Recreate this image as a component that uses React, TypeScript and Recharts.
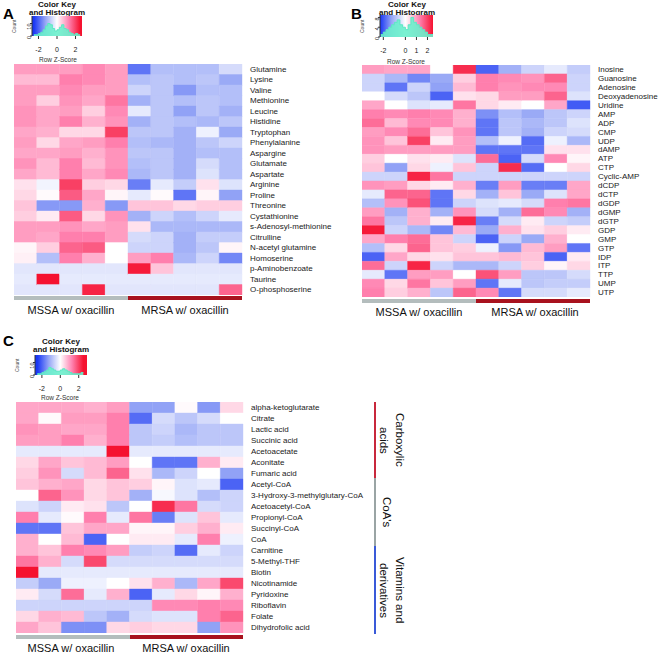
import React from "react";
import { BarChart, Bar, Cell, XAxis, YAxis, ComposedChart, Area, ReferenceArea } from "recharts";

// ---- panel A: amino acids ----
const aNames = [
  "Glutamine", "Lysine", "Valine", "Methionine", "Leucine", "Histidine", "Tryptophan",
  "Phenylalanine", "Aspargine", "Glutamate", "Aspartate", "Arginine", "Proline", "Threonine",
  "Cystathionine", "s-Adenosyl-methionine", "Citrulline", "N-acetyl glutamine", "Homoserine",
  "p-Aminobenzoate", "Taurine", "O-phosphoserine",
];
const aValues = [
  [1.0, 1.0, 1.0, 1.2, 1.0, -1.8, -0.9, -0.9, -0.9, -0.5],
  [0.7, 0.7, 1.3, 1.2, 1.0, -0.9, -0.8, -0.9, -0.8, -1.2],
  [1.0, 1.0, 1.2, 1.0, 1.0, -0.6, -0.8, -1.4, -0.9, -0.9],
  [1.0, 0.5, 1.1, 0.9, 1.4, -1.1, -0.8, -0.9, -0.8, -0.9],
  [1.1, 0.9, 1.0, 0.5, 1.2, -0.3, -0.8, -1.3, -0.8, -1.1],
  [1.1, 0.9, 1.3, 0.8, 1.1, -1.1, -0.8, -0.9, -1.0, -0.8],
  [0.9, 0.8, 0.4, 0.4, 2.0, -0.8, -0.8, -1.1, -0.2, -1.2],
  [1.0, 0.4, 0.9, 1.0, 1.3, -0.9, -1.0, -1.1, -0.8, -0.6],
  [0.9, 0.9, 1.0, 0.8, 1.1, -0.8, -0.8, -1.1, -0.9, -0.9],
  [1.1, 0.7, 1.3, 0.7, 1.1, -0.9, -0.8, -1.1, -0.5, -0.9],
  [0.9, 0.7, 1.3, 0.9, 1.2, -1.0, -0.8, -1.1, -0.4, -0.9],
  [0.3, -0.15, 2.0, 0.5, 0.4, -1.7, -0.3, -0.7, 0.3, -0.4],
  [0.4, 0.05, 1.7, 0.9, 0.1, -0.3, 0.05, -1.8, 0.1, -1.3],
  [0.6, -1.4, -1.4, 0.8, -1.4, 0.6, 0.6, 0.4, 0.5, 0.5],
  [0.5, 0.2, 1.7, 0.4, 1.1, -1.1, -0.6, -0.9, -0.6, -0.3],
  [1.0, 1.0, 1.1, 0.9, 1.0, 0.3, -1.0, -1.0, -1.0, -1.0],
  [1.0, 0.9, 1.3, 1.3, 1.0, -0.5, -0.6, -1.1, -0.7, -0.7],
  [0.1, 0.5, 1.6, 1.7, 0.0, -0.6, -0.6, -1.1, -0.8, 0.1],
  [0.15, -0.9, 1.3, 0.8, 0.0, 1.0, 1.3, -1.0, -0.6, -1.6],
  [-0.35, -0.35, -0.35, -0.35, -0.35, 2.4, 0.6, -0.35, -0.35, -0.35],
  [-0.3, 2.5, -0.3, -0.3, -0.3, -0.3, -0.3, -0.3, -0.3, -0.3],
  [-0.35, -0.35, -0.35, 2.3, -0.35, -0.35, -0.35, -0.35, -0.35, 1.6],
];

// ---- panel B: nucleotides ----
const bNames = [
  "Inosine", "Guanosine", "Adenosine", "Deoxyadenosine", "Uridine", "AMP", "ADP", "CMP", "UDP",
  "dAMP", "ATP", "CTP", "Cyclic-AMP", "dCDP", "dCTP", "dGDP", "dGMP", "dGTP", "GDP", "GMP",
  "GTP", "IDP", "ITP", "TTP", "UMP", "UTP",
];
const bValues = [
  [1.0, 0.9, 0.9, 0.0, 2.2, -2.0, -1.1, -0.6, -0.3, -0.7],
  [-0.6, -1.0, -1.6, -1.2, 0.5, 1.3, 1.2, 1.1, 1.6, -0.6],
  [-0.6, -1.8, -0.6, -1.3, 0.7, 1.3, 1.1, 1.2, 1.2, -0.6],
  [0.0, -0.5, -0.8, -2.0, 0.3, 0.4, 1.0, 1.0, 1.6, -0.4],
  [0.9, 0.0, -0.4, -0.3, 1.4, 0.4, 0.2, 0.0, 0.9, -2.1],
  [1.3, 1.2, 1.3, 1.2, 0.8, -1.5, -0.9, -1.2, -0.8, -0.6],
  [1.5, 0.7, 1.2, 1.2, 0.8, -1.8, -0.8, -1.0, -0.8, -0.4],
  [1.0, 1.2, 1.5, 0.6, 1.1, -1.8, -0.8, -1.1, -0.6, -0.5],
  [1.1, 0.6, 2.0, 0.2, 1.0, -0.9, -0.2, -1.9, -0.2, -1.0],
  [1.1, 1.0, 1.0, 1.0, 1.0, -1.8, -1.8, -1.8, 0.3, 0.3],
  [0.5, 0.0, 0.3, 0.2, -0.4, 1.5, -2.0, -0.5, 1.2, 0.1],
  [0.6, -1.3, 0.4, -0.2, 0.6, -0.6, 2.2, -1.9, 0.0, 0.4],
  [-0.6, -0.6, 2.3, 1.4, -0.6, -0.6, -0.6, -0.6, -0.6, -0.6],
  [1.1, 1.0, 0.4, 0.2, 0.8, -1.7, 1.0, -1.7, -1.7, 0.9],
  [-0.3, 1.6, 1.6, -1.8, 0.4, -1.1, 0.6, -1.2, -0.4, 0.9],
  [-0.9, 1.1, 1.8, -1.8, -0.6, -0.4, -0.3, -0.5, 1.3, 1.4],
  [1.0, -1.1, 0.8, -1.1, 1.1, -0.5, -1.1, 1.5, 1.2, -1.1],
  [1.4, -0.8, 0.8, 0.2, 2.3, -1.7, -0.5, 0.2, -0.6, -0.7],
  [2.4, -0.6, -1.0, -1.6, 0.7, -1.2, 0.8, 0.3, 0.5, 0.2],
  [0.9, 1.3, 1.5, 0.6, -0.6, -2.0, -0.6, -1.2, 0.8, 0.0],
  [-0.9, 0.4, 1.6, 0.6, 0.5, -0.2, -1.4, 0.7, 1.0, -1.8],
  [-2.0, 0.9, 0.4, 0.3, 0.6, 0.6, 0.7, 0.6, -2.0, 0.2],
  [1.5, -0.6, 2.3, -0.6, -1.0, -1.0, -0.6, 0.5, 0.1, 0.4],
  [-0.3, -1.8, 1.0, 1.0, 0.0, 1.8, 1.0, -0.8, -0.8, -0.5],
  [1.2, 0.4, 1.4, 0.6, 1.0, -1.8, -0.3, -0.8, -0.7, -0.7],
  [1.3, 0.5, 0.8, -0.8, 1.6, 1.2, -1.8, -0.5, -0.5, -0.3],
];

// ---- panel C: acids, CoA's, vitamins ----
const cNames = [
  "alpha-ketoglutarate", "Citrate", "Lactic acid", "Succinic acid", "Acetoacetate", "Aconitate",
  "Fumaric acid", "Acetyl-CoA", "3-Hydroxy-3-methylglutary-CoA", "Acetoacetyl-CoA",
  "Propionyl-CoA", "Succinyl-CoA", "CoA", "Carnitine", "5-Methyl-THF", "Biotin", "Nicotinamide",
  "Pyridoxine", "Riboflavin", "Folate", "Dihydrofolic acid",
];
const cValues = [
  [0.9, 0.9, 0.9, 0.8, 1.0, -1.3, -1.3, 0.05, -1.4, 0.4],
  [0.9, 0.05, 1.0, 1.0, 1.3, -1.9, -0.5, -0.8, -0.5, 0.0],
  [1.1, 1.0, 0.9, 0.9, 1.3, -0.8, -0.6, -1.0, -0.8, -0.8],
  [1.0, 1.0, 1.3, 0.8, 1.3, -0.8, -0.7, -0.9, -0.8, -0.8],
  [-0.3, -0.3, -0.3, -0.3, 2.5, -0.3, -0.3, -0.3, -0.3, -0.3],
  [0.4, 0.9, 0.6, 0.7, 1.0, 0.0, -1.8, -1.8, 0.8, 0.2],
  [0.5, 1.1, -0.5, 0.7, 1.6, 0.3, -1.0, -0.6, 0.0, -1.3],
  [0.6, 0.8, 0.9, 0.4, 0.6, 0.5, 0.1, -0.4, -0.3, -2.0],
  [0.0, 1.6, 1.1, 0.4, 0.6, -1.1, -0.1, -0.4, -0.9, -0.6],
  [-0.4, -0.6, 0.2, 0.3, -0.8, 0.0, 2.2, 1.4, -0.5, -0.6],
  [1.3, -0.3, 0.05, 1.3, -0.3, 1.4, -1.7, -0.4, 0.6, -0.3],
  [-1.8, -1.8, 0.6, 0.9, 0.9, 0.1, 0.1, 0.5, 0.8, 0.2],
  [0.8, 0.0, 0.7, -2.0, 0.0, 0.2, 0.2, -0.3, 1.3, -0.2],
  [0.8, 0.6, 1.3, 1.2, 1.0, -0.7, -0.6, -1.9, -0.3, -0.6],
  [1.4, 0.8, -0.5, 1.9, -0.5, -0.5, -0.5, -0.5, -0.5, -0.5],
  [2.5, -0.3, -0.3, -0.3, -0.3, -0.3, -0.3, -0.3, -0.3, -0.3],
  [-0.7, -1.2, -0.2, -0.2, 0.0, 0.3, 0.8, -1.0, 0.9, 1.9],
  [0.2, -0.5, 1.5, -0.3, 0.8, -2.0, -0.3, 0.4, 0.1, 0.8],
  [-0.6, -0.6, -0.6, -0.6, -0.6, -0.6, 1.2, 1.2, 1.3, 1.2],
  [0.4, 0.8, 0.7, -0.8, -1.1, -0.5, -0.4, -0.4, 1.3, 1.6],
  [0.9, 0.6, -1.5, -1.5, 0.4, 0.5, 0.4, 0.4, -1.3, 1.1],
];

// ---- colour key histograms (bin start, count) ----
const aHistBins = [-2.5, -2.25, -2, -1.75, -1.5, -1.25, -1, -0.75, -0.5, -0.25, 0, 0.25, 0.5, 0.75, 1, 1.25, 1.5, 1.75, 2, 2.25, 2.5];
const aHistCounts = [1, 1, 2, 3, 5, 8, 10, 9, 6, 4, 5, 7, 9, 6, 5, 3, 2, 1, 2, 1, 1];
const bHistBins = [-2.25, -2, -1.75, -1.5, -1.25, -1, -0.75, -0.5, -0.25, 0, 0.25, 0.5, 0.75, 1, 1.25, 1.5, 1.75, 2, 2.25, 2.5];
const bHistCounts = [1, 2, 3, 4, 5, 6, 7, 5, 4, 3, 5, 8, 6, 5, 4, 3, 2, 1, 1, 1];
const cHistBins = [-2.5, -2.25, -2, -1.75, -1.5, -1.25, -1, -0.75, -0.5, -0.25, 0, 0.25, 0.5, 0.75, 1, 1.25, 1.5, 1.75, 2, 2.25, 2.5];
const cHistCounts = [1, 1, 2, 3, 4, 6, 5, 4, 3, 3, 4, 5, 4, 3, 2, 1, 1, 1, 1, 2, 2];

const groups = ["MSSA w/ oxacillin", "MRSA w/ oxacillin"];

// palette: deep blue -> lavender -> white -> pink -> red
const BLUE_END = [25, 55, 245];
const BLUE_MID = [150, 166, 246];
const RED_MID = [255, 132, 178];
const RED_END = [245, 18, 48];
const FONT = "'Liberation Sans', Arial, sans-serif";

function zColor(z: number) {
  const t = Math.min(Math.abs(z), 2.5) / 2.5;
  const mid = z < 0 ? BLUE_MID : RED_MID;
  const end = z < 0 ? BLUE_END : RED_END;
  let c: number[];
  if (t <= 0.5) {
    const u = t / 0.5;
    c = mid.map((v) => 255 + (v - 255) * u);
  } else {
    const u = (t - 0.5) / 0.5;
    c = mid.map((v, k) => v + (end[k] - v) * u);
  }
  return `rgb(${Math.round(c[0])},${Math.round(c[1])},${Math.round(c[2])})`;
}

const COLS = ["c0", "c1", "c2", "c3", "c4", "c5", "c6", "c7", "c8", "c9"];

function LabelTick(props: any) {
  const { x, y, payload } = props;
  return (
    <text x={x} y={y} dy="0.34em" textAnchor="start" fontSize={8} fill="#1a1a1a" fontFamily={FONT}>
      {payload.value}
    </text>
  );
}

function Heatmap({ names, values, left, top, width, height, labelWidth }: any) {
  const data = names.map((name: string) => {
    const row: any = { name };
    COLS.forEach((k) => (row[k] = 1));
    return row;
  });
  return (
    <div style={{ position: "absolute", left, top }}>
      <BarChart
        layout="vertical"
        width={width + labelWidth}
        height={height}
        data={data}
        margin={{ top: 0, right: 0, bottom: 0, left: 0 }}
        barCategoryGap={0}
      >
        <XAxis type="number" domain={[0, 10]} hide />
        <YAxis
          type="category"
          dataKey="name"
          orientation="right"
          width={labelWidth}
          axisLine={false}
          tickLine={false}
          interval={0}
          tick={<LabelTick />}
        />
        {COLS.map((k, j) => (
          <Bar key={k} dataKey={k} stackId="h" isAnimationActive={false}>
            {values.map((row: number[], i: number) => (
              <Cell key={i} fill={zColor(row[j])} stroke={zColor(row[j])} strokeWidth={0.4} />
            ))}
          </Bar>
        ))}
      </BarChart>
    </div>
  );
}

const KEY_STOPS = [-2.5, -1.25, 0, 1.25, 2.5];

function ColorKey({ id, left, top, boxW, boxH, domain, ticks, yMax, yTicks, bins, counts }: any) {
  const data = bins.map((x: number, i: number) => ({ x, n: counts[i] }));
  const yW = 14;
  const xH = 22;
  const span = domain[1] - domain[0];
  const off = (z: number) => Math.max(0, Math.min(1, (z - domain[0]) / span));
  return (
    <>
      <svg width={0} height={0} style={{ position: "absolute" }}>
        <defs>
          <linearGradient id={id} x1="0" y1="0" x2="1" y2="0">
            {KEY_STOPS.map((z) => (
              <stop key={z} offset={off(z)} stopColor={zColor(z)} />
            ))}
          </linearGradient>
        </defs>
      </svg>
      <div style={{ position: "absolute", left: left - yW, top }}>
        <ComposedChart width={boxW + yW} height={boxH + xH} data={data} margin={{ top: 0, right: 0, bottom: 0, left: 0 }}>
          <XAxis
            type="number"
            dataKey="x"
            domain={domain}
            allowDataOverflow
            ticks={ticks}
            interval={0}
            height={xH}
            tickSize={3}
            tickMargin={8}
            axisLine={false}
            stroke="#333"
            tick={{ fontSize: 7, fill: "#222", fontFamily: FONT }}
          />
          <YAxis
            type="number"
            domain={[0, yMax]}
            allowDataOverflow
            ticks={yTicks}
            interval={0}
            width={yW}
            tickSize={2}
            tickMargin={1}
            stroke="#333"
            tick={{ fontSize: 5.5, fill: "#222", fontFamily: FONT, angle: -90 }}
          />
          <ReferenceArea x1={domain[0]} x2={domain[1]} y1={0} y2={yMax} fill={`url(#${id})`} fillOpacity={1} stroke="none" />
          <Area
            type="stepAfter"
            dataKey="n"
            stroke="#5de8c4"
            fill="#6cf0cc"
            fillOpacity={0.9}
            strokeWidth={1}
            dot={false}
            activeDot={false}
            isAnimationActive={false}
          />
        </ComposedChart>
      </div>
      <div
        style={{
          position: "absolute",
          left: left - yW - 9,
          top: top + boxH / 2 - 10,
          width: 10,
          height: 20,
          writingMode: "vertical-rl",
          transform: "rotate(180deg)",
          fontSize: 5,
          fontFamily: FONT,
          color: "#444",
          textAlign: "center",
          lineHeight: "10px",
        }}
      >
        Count
      </div>
    </>
  );
}

function KeyTitle({ cx, top }: any) {
  return (
    <div
      style={{
        position: "absolute",
        left: cx - 40,
        top,
        width: 80,
        textAlign: "center",
        fontFamily: FONT,
        fontWeight: "bold",
        fontSize: 8,
        lineHeight: "8px",
        color: "#111",
      }}
    >
      Color Key
      <br />
      and Histogram
    </div>
  );
}

function RowZ({ cx, cy }: any) {
  return (
    <div
      style={{
        position: "absolute",
        left: cx - 30,
        top: cy - 4,
        width: 60,
        textAlign: "center",
        fontFamily: FONT,
        fontSize: 6.5,
        lineHeight: "8px",
        color: "#333",
      }}
    >
      Row Z-Score
    </div>
  );
}

function GroupBar({ left, top, width }: any) {
  const half = width / 2;
  return (
    <>
      <div style={{ position: "absolute", left, top, width: half, height: 3.5, background: "#b4bdbd" }} />
      <div style={{ position: "absolute", left: left + half, top, width: half, height: 3.5, background: "#a8121e" }} />
    </>
  );
}

function GroupLabel({ cx, cy, text }: any) {
  return (
    <div
      style={{
        position: "absolute",
        left: cx - 60,
        top: cy - 7,
        width: 120,
        textAlign: "center",
        fontFamily: FONT,
        fontSize: 11,
        lineHeight: "14px",
        color: "#111",
      }}
    >
      {text}
    </div>
  );
}

function Letter({ left, top, text }: any) {
  return (
    <div style={{ position: "absolute", left, top, fontFamily: FONT, fontWeight: "bold", fontSize: 15, lineHeight: "16px" }}>
      {text}
    </div>
  );
}

function SideNote({ left, top, width, height, text, color }: any) {
  return (
    <>
      <div style={{ position: "absolute", left: 374, top, width: 1.6, height, background: color }} />
      <div
        style={{
          position: "absolute",
          left,
          top,
          width,
          height,
          writingMode: "vertical-rl",
          textAlign: "center",
          fontFamily: FONT,
          fontSize: 11.5,
          lineHeight: "16px",
          color: "#111",
          display: "flex",
          justifyContent: "center",
        }}
      >
        <span>{text}</span>
      </div>
    </>
  );
}

export default function App() {
  return (
    <div style={{ position: "absolute", left: 0, top: 0, width: 661, height: 657, background: "#fff", overflow: "hidden" }}>
      {/* Panel A */}
      <Letter left={3} top={6} text="A" />
      <KeyTitle cx={57} top={1} />
      <ColorKey id="gA" left={32} top={16} boxW={50} boxH={20} domain={[-2.7, 2.7]} ticks={[-2, 0, 2]} yMax={16} yTicks={[0, 10]} bins={aHistBins} counts={aHistCounts} />
      <RowZ cx={58} cy={60} />
      <Heatmap names={aNames} values={aValues} left={14} top={64} width={228} height={231} labelWidth={110} />
      <GroupBar left={14} top={296} width={228} />
      <GroupLabel cx={71} cy={310} text={groups[0]} />
      <GroupLabel cx={185} cy={310} text={groups[1]} />

      {/* Panel B */}
      <Letter left={351} top={6} text="B" />
      <KeyTitle cx={407} top={1} />
      <ColorKey id="gB" left={380} top={15} boxW={53} boxH={22} domain={[-2.3, 2.5]} ticks={[-2, 0, 1, 2]} yMax={9} yTicks={[0, 4, 8]} bins={bHistBins} counts={bHistCounts} />
      <RowZ cx={406} cy={62} />
      <Heatmap names={bNames} values={bValues} left={362} top={65} width={228} height={232} labelWidth={70} />
      <GroupBar left={362} top={299} width={228} />
      <GroupLabel cx={419} cy={312} text={groups[0]} />
      <GroupLabel cx={535} cy={312} text={groups[1]} />

      {/* Panel C */}
      <Letter left={3} top={333} text="C" />
      <KeyTitle cx={61} top={338} />
      <ColorKey id="gC" left={35} top={355} boxW={52} boxH={20} domain={[-2.75, 2.9]} ticks={[-2, 0, 2]} yMax={16} yTicks={[0, 10]} bins={cHistBins} counts={cHistCounts} />
      <RowZ cx={60} cy={398} />
      <Heatmap names={cNames} values={cValues} left={16} top={402} width={227} height={231} labelWidth={130} />
      <GroupBar left={16} top={635} width={227} />
      <GroupLabel cx={71} cy={648} text={groups[0]} />
      <GroupLabel cx={186} cy={648} text={groups[1]} />

      <SideNote left={376} top={402} width={32} height={76} text="Carboxylic acids" color="#c8283c" />
      <SideNote left={379} top={478} width={16} height={68} text="CoA's" color="#9aa4a4" />
      <SideNote left={376} top={546} width={32} height={88} text="Vitamins and derivatives" color="#3a5ad8" />
    </div>
  );
}
